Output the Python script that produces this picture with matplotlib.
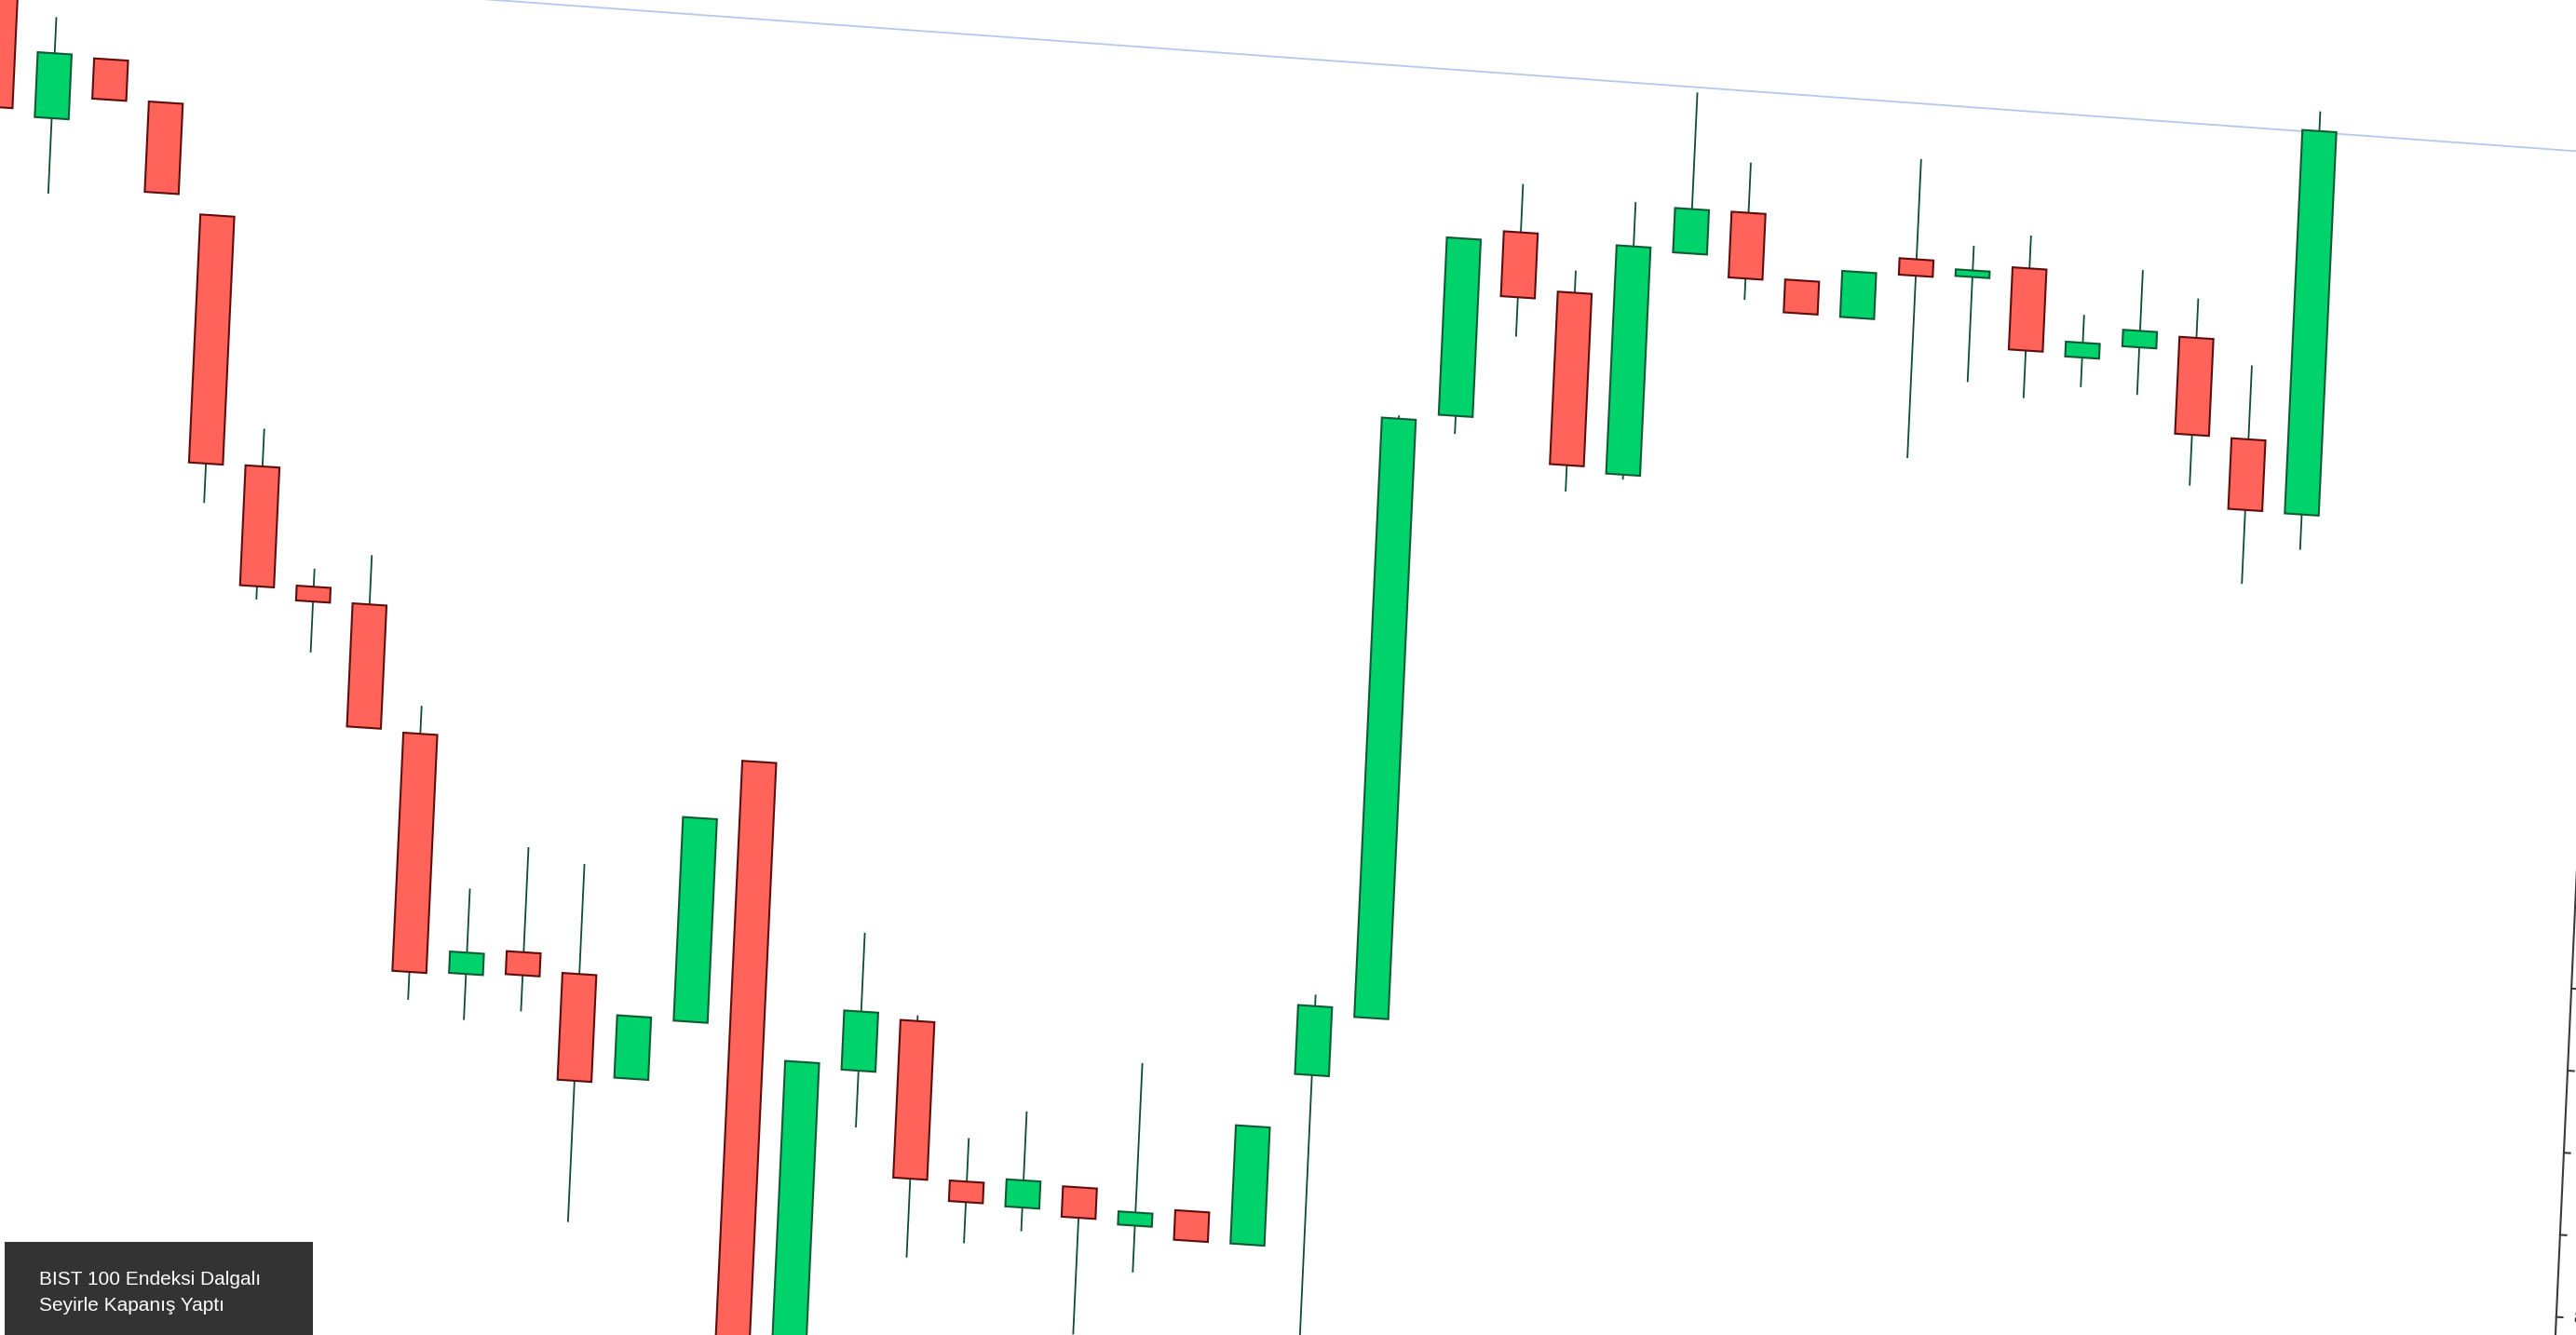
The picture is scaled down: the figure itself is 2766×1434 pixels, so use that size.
import numpy as np
import matplotlib
matplotlib.use("Agg")
import matplotlib.pyplot as plt
from matplotlib.transforms import Affine2D, blended_transform_factory
from matplotlib.patches import Rectangle

# ---- data (index-based candles, price values) ----
opens = [9974, 9755, 9831, 9783, 9650, 9349, 9207, 9190, 9037, 8749,
         8780, 8758, 8635, 8709, 9030, 8243, 8663, 8728, 8537, 8510,
         8539, 8497, 8519, 8483, 8694, 8768, 9506, 9734, 9665, 9448,
         9722, 9776, 9698, 9657, 9733, 9716, 9731, 9627, 9644, 9660,
         9541, 9454]
highs = [10014, 9878, 9831, 9783, 9650, 9395, 9229, 9250, 9071, 8853,
         8908, 8892, 8711, 8957, 9030, 8669, 8831, 8735, 8590, 8627,
         8539, 8695, 8519, 8627, 8792, 9502, 9722, 9793, 9692, 9780,
         9918, 9837, 9698, 9713, 9855, 9754, 9771, 9679, 9738, 9708,
         9631, 9945]
lows = [9754, 9663, 9782, 9673, 9300, 9187, 9127, 9040, 8713, 8693,
        8708, 8456, 8635, 8709, 8218, 8243, 8594, 8440, 8462, 8481,
        8360, 8440, 8483, 8483, 8344, 8768, 9484, 9607, 9423, 9442,
        9722, 9670, 9658, 9657, 9491, 9588, 9573, 9591, 9586, 9480,
        9365, 9411]
closes = [9764, 9834, 9782, 9673, 9348, 9203, 9189, 9040, 8747, 8775,
          8752, 8628, 8711, 8957, 8218, 8669, 8735, 8536, 8512, 8543,
          8502, 8513, 8483, 8627, 8778, 9498, 9722, 9655, 9455, 9726,
          9776, 9696, 9658, 9713, 9713, 9724, 9631, 9645, 9664, 9542,
          9455, 9921]
trend_x = [0, 46]
trend_y = [9938, 9917]
axis_ticks = list(range(8300, 10001, 100))
title_lines = ["BIST 100 Endeksi Dalgalı", "Seyirle Kapanış Yaptı"]

# ---- figure ----
W, H = 2766, 1434
fig = plt.figure(figsize=(W / 100, H / 100), dpi=100, facecolor="white")
ax = fig.add_axes([0, 0, 2772.7 / W, 1])
ax.axis("off")

# slight rotation / shear of the whole chart (display-space)
rot = (Affine2D().translate(-W / 2, -H / 2)
       + Affine2D(np.array([[1.0, 0.046, 0.0], [-0.066, 1.0, 0.0], [0, 0, 1]]))
       + Affine2D().translate(W / 2, H / 2))
T = ax.transData + rot

x = np.arange(len(opens))
o = np.array(opens, float)
c = np.array(closes, float)
up = c >= o
bottoms = np.minimum(o, c)
heights = np.maximum(np.abs(c - o), 1.0)

GREEN, RED = "#00d36b", "#ff6359"
GREEN_E, RED_E = "#0f5a35", "#5e0d0d"
WICK = "#0e4d2e"

wl = ax.vlines(x, lows, highs, colors=WICK, linewidth=1.3, zorder=1)
wl.set_transform(T)
wl.set_clip_on(False)

bars = ax.bar(x, heights, bottom=bottoms, width=0.6,
              color=[GREEN if u else RED for u in up],
              edgecolor=[GREEN_E if u else RED_E for u in up],
              linewidth=1.5, zorder=2)
for p in bars:
    p.set_transform(T)
    p.set_clip_on(False)

ax.plot(trend_x, trend_y, color="#b4c9ec", lw=1.3, transform=T,
        clip_on=False, zorder=0)

# right price axis (rotated with chart)
bt = blended_transform_factory(ax.transAxes, ax.transData) + rot
ax.plot([1, 1], [8374, 10000], color="#3a3a3a", lw=1.5, transform=bt,
        clip_on=False)
for t in axis_ticks:
    ax.plot([1, 1.0024], [t, t], color="#3a3a3a", lw=1.5, transform=bt,
            clip_on=False)
    ax.text(1.0065, t, f"{t:,}".replace(",", "."), transform=bt,
            ha="left", va="center", fontsize=13, color="#333333",
            rotation=-3.8, rotation_mode="anchor", clip_on=False)

ax.set_xlim(0.465, 46.14)
ax.set_ylim(8374, 10000)

# caption box (not rotated)
fig.patches.append(Rectangle((5 / W, 0), 331 / W, 100 / H,
                             transform=fig.transFigure,
                             facecolor="#333333", edgecolor="none", zorder=5))
fig.text(42 / W, (H - 1380) / H, title_lines[0], color="white", fontsize=15,
         family=["Liberation Sans", "DejaVu Sans"], va="baseline", zorder=6)
fig.text(42 / W, (H - 1408) / H, title_lines[1], color="white", fontsize=15,
         family=["Liberation Sans", "DejaVu Sans"], va="baseline", zorder=6)

fig.savefig("out.png", dpi=100, facecolor="white")
